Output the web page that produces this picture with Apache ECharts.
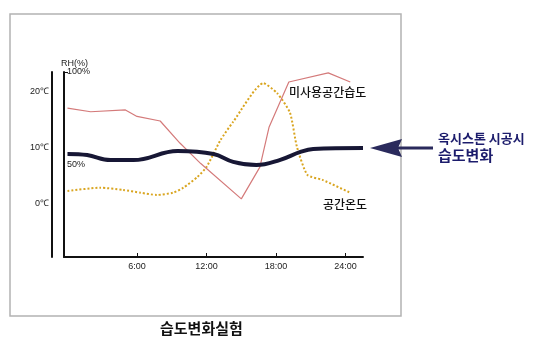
<!DOCTYPE html>
<html>
<head>
<meta charset="utf-8">
<script src="https://cdn.jsdelivr.net/npm/echarts@6/dist/echarts.min.js"></script>
<style>
  html, body { margin: 0; padding: 0; background: #fff; }
  #chart { width: 536px; height: 354px; }
</style>
</head>
<body>
<div id="chart"></div>
<script>
  // 시간 (h)
  var xTicks = [6, 12, 18, 24]
  var tempTicks = [0, 10, 20]
  var rhTicks = [50, 100]

  // 옥시스톤 시공시 습도 (RH %)
  var oxHours = [0, 1.7, 3.7, 5.7, 9.5, 12.6, 14.3, 16.3, 18.3, 20.1, 21.2, 25.5]
  var oxRH = [55.7, 55.1, 52.4, 52.4, 57.3, 55.7, 51.4, 49.7, 52.4, 56.8, 58.4, 58.9]

  // 미사용공간습도 (RH %)
  var unusedHours = [0, 2, 5, 6, 8, 9.7, 11.5, 15, 16.6, 17.4, 19.1, 22.5, 24.4]
  var unusedRH = [80.5, 78.5, 79.5, 76, 73.5, 61.6, 50.5, 31.4, 48.6, 70.3, 94.6, 99.5, 94.6]

  // 공간온도 (℃)
  var tempHours = [0, 2.8, 4.8, 6.3, 7.7, 9.1, 10.0, 11.2, 12.0, 13.2, 14.3, 16.9, 18.1, 19.2, 19.8, 20.7, 22.0, 24.4]
  var tempC = [2.2, 2.8, 2.4, 1.9, 1.5, 1.9, 2.8, 4.7, 6.5, 11.3, 14.6, 21.5, 19.7, 16.2, 10.1, 5.1, 4.2, 1.9]

  var pairs = function (xs, ys) {
    return xs.map(function (x, i) { return [x, ys[i]] })
  }

  var font = 'Liberation Sans, Arial, sans-serif'
  var krFont = 'Noto Sans CJK KR, sans-serif'

  var chart = echarts.init(document.getElementById('chart'), null, { renderer: 'canvas' })

  var option = {
    animation: false,
    grid: {
      left: 64,
      top: 72,
      width: 299,
      height: 185,
      containLabel: false,
      outerBoundsMode: 'none'
    },
    xAxis: {
      type: 'value',
      min: -0.3,
      max: 25.5,
      axisLine: { onZero: false, lineStyle: { color: '#111', width: 2 } },
      axisTick: {
        inside: true,
        length: 4,
        customValues: xTicks,
        lineStyle: { color: '#111', width: 1 }
      },
      axisLabel: {
        customValues: xTicks,
        formatter: function (v) { return v + ':00' },
        margin: 5,
        fontSize: 9,
        fontFamily: font,
        color: '#222'
      },
      splitLine: { show: false }
    },
    yAxis: [
      {
        // 온도축
        type: 'value',
        position: 'left',
        offset: 12,
        min: -9.6,
        max: 23.5,
        axisLine: { show: true, onZero: false, lineStyle: { color: '#111', width: 2 } },
        axisTick: { show: false },
        axisLabel: {
          customValues: tempTicks,
          formatter: '{value}℃',
          margin: 3,
          fontSize: 9,
          fontFamily: font,
          color: '#222'
        },
        splitLine: { show: false }
      },
      {
        // 습도축
        type: 'value',
        position: 'left',
        offset: 0,
        min: 0,
        max: 100,
        name: 'RH(%)',
        nameLocation: 'end',
        nameGap: 3,
        nameTextStyle: { fontSize: 9, fontFamily: font, color: '#222', align: 'left', padding: [0, 0, 0, -3] },
        axisLine: { show: true, onZero: false, lineStyle: { color: '#111', width: 2 } },
        axisTick: {
          inside: true,
          length: 4,
          customValues: [100],
          lineStyle: { color: '#111', width: 1 }
        },
        axisLabel: {
          inside: true,
          customValues: rhTicks,
          formatter: '{value}%',
          margin: 3,
          fontSize: 9,
          fontFamily: font,
          color: '#222'
        },
        splitLine: { show: false }
      }
    ],
    series: [
      {
        name: '공간온도',
        type: 'line',
        yAxisIndex: 0,
        data: pairs(tempHours, tempC),
        smooth: 0.2,
        symbol: 'none',
        lineStyle: { color: '#d9a520', width: 2, type: 'dotted' }
      },
      {
        name: '미사용공간습도',
        type: 'line',
        yAxisIndex: 1,
        data: pairs(unusedHours, unusedRH),
        symbol: 'none',
        lineStyle: { color: '#d47a7a', width: 1.2 }
      },
      {
        name: '옥시스톤 시공시 습도변화',
        type: 'line',
        yAxisIndex: 1,
        data: pairs(oxHours, oxRH),
        smooth: 0.4,
        symbol: 'none',
        lineStyle: { color: '#171735', width: 4 }
      }
    ],
    graphic: [
      {
        type: 'rect',
        shape: { x: 10, y: 14, width: 391, height: 302 },
        style: { fill: 'none', stroke: '#b3b3b3', lineWidth: 1.5 },
        silent: true
      },
      {
        type: 'text',
        left: 289, top: 86,
        style: { text: '미사용공간습도', font: '500 12px ' + krFont, fill: '#111' }
      },
      {
        type: 'text',
        left: 323, top: 198,
        style: { text: '공간온도', font: '500 12px ' + krFont, fill: '#111' }
      },
      {
        type: 'polygon',
        shape: { points: [[370, 148], [402, 139], [398, 148], [402, 157]] },
        style: { fill: '#2a2a5c' },
        silent: true
      },
      {
        type: 'rect',
        shape: { x: 398, y: 146.5, width: 35, height: 3 },
        style: { fill: '#2a2a5c' },
        silent: true
      },
      {
        type: 'text',
        left: 438, top: 132,
        style: { text: '옥시스톤 시공시', font: 'bold 13px ' + krFont, fill: '#1c1c6c' }
      },
      {
        type: 'text',
        left: 438, top: 148,
        style: { text: '습도변화', font: 'bold 15px ' + krFont, fill: '#1c1c6c' }
      },
      {
        type: 'text',
        left: 160, top: 321,
        style: { text: '습도변화실험', font: 'bold 15px ' + krFont, fill: '#111' }
      }
    ]
  }

  chart.setOption(option)
</script>
</body>
</html>
